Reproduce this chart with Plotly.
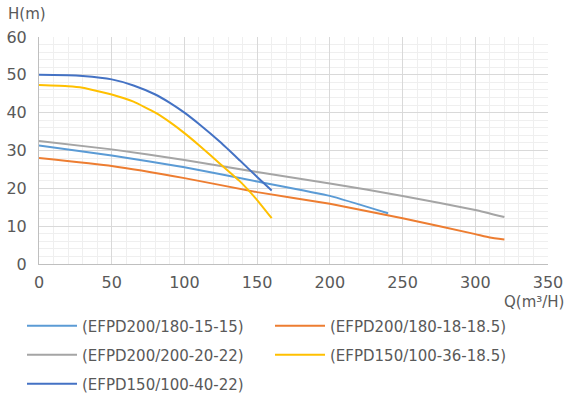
import plotly.graph_objects as go

names = ["(EFPD200/180-15-15)", "(EFPD200/180-18-18.5)", "(EFPD200/200-20-22)",
         "(EFPD150/100-36-18.5)", "(EFPD150/100-40-22)"]
colors = ["#5B9BD5", "#ED7D31", "#A5A5A5", "#FFC000", "#4472C4"]

q1 = [0, 50, 100, 150, 200, 240]
h1 = [31.3, 28.7, 25.6, 21.8, 18.0, 13.4]
q2 = [0, 50, 100, 150, 200, 250, 300, 310, 320]
h2 = [28.0, 25.9, 22.7, 19.0, 15.9, 12.1, 7.9, 7.0, 6.5]
q3 = [0, 50, 100, 150, 200, 250, 300, 320]
h3 = [32.5, 30.3, 27.5, 24.3, 21.3, 18.0, 14.3, 12.4]
q4 = [0, 20, 30, 50, 65, 80, 90, 100, 110, 125, 138, 150, 160]
h4 = [47.3, 47.0, 46.6, 44.8, 42.9, 40.0, 37.5, 34.6, 31.4, 26.3, 21.9, 16.9, 12.1]
q5 = [0, 20, 30, 50, 65, 80, 90, 100, 110, 125, 138, 150, 160]
h5 = [50.0, 49.9, 49.7, 48.8, 47.2, 44.8, 42.6, 40.0, 37.0, 32.1, 27.4, 23.0, 19.4]

series = [(q1, h1), (q2, h2), (q3, h3), (q4, h4), (q5, h5)]
legend_ids = ["legend", "legend2", "legend3", "legend4", "legend5"]
# legend item anchor positions in pixels (left of text, row centre)
legend_px = [(84, 326), (332, 326), (84, 355), (332, 355), (84, 384)]

FONT = "DejaVu Sans"
TXT = "#595959"

W, H = 568, 401
ml, mr, mt, mb = 39, 20, 37, 137
pw = W - ml - mr
ph = H - mt - mb

fig = go.Figure()
for (q, h), n, c, lg in zip(series, names, colors, legend_ids):
    fig.add_trace(go.Scatter(x=q, y=h, name=n, mode="lines",
                             line=dict(color=c, width=2, shape="spline", smoothing=0.4),
                             legend=lg))

ITEMW = 50
def legend_cfg(px, py):
    left = px - (ITEMW + 10) - 2
    return dict(orientation="v", x=(left - ml) / pw, xanchor="left",
                y=-(py - (H - mb)) / ph, yanchor="middle",
                font=dict(family=FONT, size=15, color=TXT),
                bgcolor="rgba(0,0,0,0)", itemwidth=ITEMW, borderwidth=0)

legend_layout = {lg: legend_cfg(px, py) for lg, (px, py) in zip(legend_ids, legend_px)}

fig.update_layout(
    width=W, height=H,
    margin=dict(l=ml, r=mr, t=mt, b=mb, autoexpand=False),
    paper_bgcolor="white", plot_bgcolor="white",
    font=dict(family=FONT, color=TXT),
    showlegend=True,
    **legend_layout,
    xaxis=dict(range=[0, 350], dtick=50, tick0=0,
               showgrid=True, gridcolor="#D9D9D9", gridwidth=1,
               minor=dict(dtick=10, showgrid=True, gridcolor="#EFEFEF", gridwidth=1),
               showline=True, linecolor="#BFBFBF", linewidth=1,
               zeroline=False, ticks="", ticklabelstandoff=4,
               tickfont=dict(family=FONT, size=16, color=TXT)),
    yaxis=dict(range=[0, 60], dtick=10, tick0=0,
               showgrid=True, gridcolor="#D9D9D9", gridwidth=1,
               minor=dict(dtick=2, showgrid=True, gridcolor="#EFEFEF", gridwidth=1),
               showline=True, linecolor="#BFBFBF", linewidth=1,
               zeroline=False, ticks="", ticklabelstandoff=8,
               tickfont=dict(family=FONT, size=16, color=TXT)),
    annotations=[
        dict(text="H(m)", xref="paper", yref="paper", x=(6 - ml) / pw, y=1.0 + 23 / ph,
             xanchor="left", yanchor="middle", showarrow=False,
             font=dict(family=FONT, size=15, color=TXT)),
        dict(text="Q(m³/H)", xref="paper", yref="paper", x=(566 - ml) / pw,
             y=-(302 - (H - mb)) / ph,
             xanchor="right", yanchor="middle", showarrow=False,
             font=dict(family=FONT, size=15, color=TXT)),
    ],
)

fig.write_html("out.html")
